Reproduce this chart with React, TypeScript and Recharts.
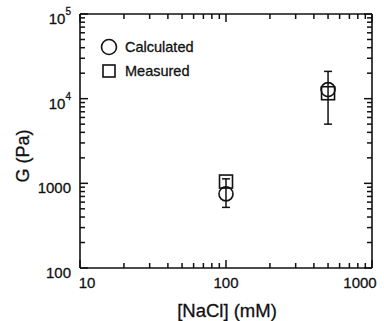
import React from 'react';
import { ScatterChart, Scatter, XAxis, YAxis, ErrorBar, Legend, ReferenceLine } from 'recharts';

// NaCl concentration (mM) and shear modulus G (Pa)
const nacl = [100, 500];
const calculatedG = [750, 12800];
const measuredG = [1050, 11600];
const calcLow = [520, 5000];
const calcHigh = [1130, 21000];

// decade and in-between tick values on the log axes
const xMajor = [10, 100, 1000];
const xMinor = [20, 30, 40, 50, 60, 70, 80, 90, 200, 300, 400, 500, 600, 700, 800, 900];
const yMajor = [100, 1000, 10000, 100000];
const yMinor = [
  200, 300, 400, 500, 600, 700, 800, 900,
  2000, 3000, 4000, 5000, 6000, 7000, 8000, 9000,
  20000, 30000, 40000, 50000, 60000, 70000, 80000, 90000,
];

const calcData = nacl.map((x, i) => ({
  x,
  y: calculatedG[i],
  err: [calculatedG[i] - calcLow[i], calcHigh[i] - calculatedG[i]],
}));
const measData = nacl.map((x, i) => ({ x, y: measuredG[i] }));

const FONT = '"Liberation Sans", Arial, Helvetica, sans-serif';
const INK = '#111';
const xDomain: [number, number] = [10, 1000];
const yDomain: [number, number] = [100, 100000];
const MAJOR_LEN = 8;
const MINOR_LEN = 5;

const xLabelShift: Record<number, number> = { 10: 7, 100: 0, 1000: -12 };

const BottomLabel = (props: any) => {
  const { x, y, payload } = props;
  const v = payload.value as number;
  return (
    <text x={x + (xLabelShift[v] || 0)} y={y} textAnchor="middle" dominantBaseline="central"
      fontSize={15} fontFamily={FONT} fill={INK} stroke={INK} strokeWidth={0.3}>
      {v}
    </text>
  );
};

const LeftLabel = (props: any) => {
  const { x, y, payload } = props;
  const v = payload.value as number;
  const exp = Math.round(Math.log10(v));
  return (
    <text x={x} y={y + 4} textAnchor="end" dominantBaseline="central" fontSize={15} fontFamily={FONT}
      fill={INK} stroke={INK} strokeWidth={0.3}>
      {exp >= 4 ? (
        <>
          <tspan>10</tspan>
          <tspan fontSize={10} dy={-7}>{exp}</tspan>
        </>
      ) : (
        String(v)
      )}
    </text>
  );
};

// short inward marks at both ends of a reference line (bottom/top or left/right edge of the box)
const vTicks = (len: number) => (p: any) => {
  const x = p.x1;
  const top = Math.min(p.y1, p.y2);
  const bottom = Math.max(p.y1, p.y2);
  return (
    <g>
      <line x1={x} y1={bottom} x2={x} y2={bottom - len} stroke={INK} strokeWidth={1.5} />
      <line x1={x} y1={top} x2={x} y2={top + len} stroke={INK} strokeWidth={1.5} />
    </g>
  );
};
const hTicks = (len: number) => (p: any) => {
  const y = p.y1;
  const left = Math.min(p.x1, p.x2);
  const right = Math.max(p.x1, p.x2);
  return (
    <g>
      <line x1={left} y1={y} x2={left + len} y2={y} stroke={INK} strokeWidth={1.5} />
      <line x1={right} y1={y} x2={right - len} y2={y} stroke={INK} strokeWidth={1.5} />
    </g>
  );
};

const CircleMark = (p: any) => (
  <circle cx={p.cx} cy={p.cy} r={7} fill="none" stroke={INK} strokeWidth={1.6} />
);
const SquareMark = (p: any) => (
  <rect x={p.cx - 6.5} y={p.cy - 6.5} width={13} height={13} fill="none" stroke={INK} strokeWidth={1.6} />
);
const NoMark = () => <g />;

const LegendBox = () => (
  <svg width={110} height={50}>
    <circle cx={14} cy={12} r={7.5} fill="none" stroke={INK} strokeWidth={1.6} />
    <rect x={8} y={30} width={12} height={12} fill="none" stroke={INK} strokeWidth={1.6} />
    <text x={30} y={12} dominantBaseline="central" fontSize={14.5} fontFamily={FONT} fill={INK} stroke={INK} strokeWidth={0.3}>
      Calculated
    </text>
    <text x={30} y={36} dominantBaseline="central" fontSize={14.5} fontFamily={FONT} fill={INK} stroke={INK} strokeWidth={0.3}>
      Measured
    </text>
  </svg>
);

const axisLine = { stroke: INK, strokeWidth: 1.6 };

export default function App() {
  return (
    <div style={{ position: 'absolute', left: 0, top: 0, width: 384, height: 321, background: '#fff' }}>
      <ScatterChart width={384} height={321} margin={{ top: 13, right: 11, bottom: 52, left: 79 }}>
        <XAxis xAxisId="b" dataKey="x" type="number" scale="log" domain={xDomain} allowDataOverflow
          ticks={xMajor} interval={0} tickSize={0} tickMargin={14} height={1}
          axisLine={axisLine} tickLine={false} tick={BottomLabel} />
        <XAxis xAxisId="t" dataKey="x" orientation="top" type="number" scale="log" domain={xDomain} allowDataOverflow
          ticks={xMajor} height={1} axisLine={axisLine} tickLine={false} tick={false} />
        <YAxis yAxisId="l" dataKey="y" type="number" scale="log" domain={yDomain} allowDataOverflow
          ticks={yMajor} interval={0} tickSize={0} tickMargin={9} width={1}
          axisLine={axisLine} tickLine={false} tick={LeftLabel} />
        <YAxis yAxisId="r" dataKey="y" orientation="right" type="number" scale="log" domain={yDomain} allowDataOverflow
          ticks={yMajor} width={1} axisLine={axisLine} tickLine={false} tick={false} />

        {xMajor.map((v) => (
          <ReferenceLine key={`xM${v}`} x={v} xAxisId="b" yAxisId="l" shape={vTicks(MAJOR_LEN)} />
        ))}
        {xMinor.map((v) => (
          <ReferenceLine key={`xm${v}`} x={v} xAxisId="b" yAxisId="l" shape={vTicks(MINOR_LEN)} />
        ))}
        {yMajor.map((v) => (
          <ReferenceLine key={`yM${v}`} y={v} xAxisId="b" yAxisId="l" shape={hTicks(MAJOR_LEN)} />
        ))}
        {yMinor.map((v) => (
          <ReferenceLine key={`ym${v}`} y={v} xAxisId="b" yAxisId="l" shape={hTicks(MINOR_LEN)} />
        ))}

        <Scatter name="Measured" data={measData} xAxisId="b" yAxisId="l" shape={SquareMark} isAnimationActive={false} />
        <Scatter name="Calculated" data={calcData} xAxisId="b" yAxisId="l" shape={CircleMark} isAnimationActive={false}>
          <ErrorBar dataKey="err" direction="y" width={4} stroke={INK} strokeWidth={1.5} />
        </Scatter>
        <Scatter data={measData} xAxisId="t" yAxisId="r" shape={NoMark} isAnimationActive={false} legendType="none" />

        <Legend layout="horizontal" verticalAlign="middle" align="center" content={LegendBox}
          wrapperStyle={{ left: 95, top: 35, width: 110, height: 50 }} />
        <text x={227} y={310} textAnchor="middle" dominantBaseline="central" fontSize={18.5} fontFamily={FONT}
          fill={INK} stroke={INK} strokeWidth={0.3}>
          [NaCl] (mM)
        </text>
        <text x={23} y={156} textAnchor="middle" dominantBaseline="central" fontSize={18} fontFamily={FONT}
          fill={INK} stroke={INK} strokeWidth={0.3} transform="rotate(-90 23 156)">
          G (Pa)
        </text>
      </ScatterChart>
    </div>
  );
}
